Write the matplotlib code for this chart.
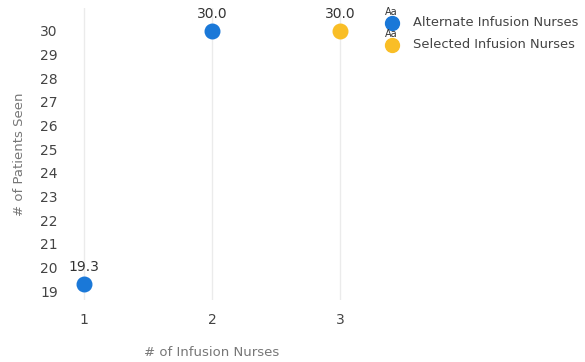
import matplotlib
matplotlib.use("Agg")
import matplotlib.pyplot as plt
from matplotlib.lines import Line2D

# ---------------------------------------------
# DATA
# ---------------------------------------------
alt_nurses = [1, 2]
alt_patients = [19.3, 30.0]
sel_nurses = [3]
sel_patients = [30.0]
x_ticks = [1, 2, 3]
y_ticks = list(range(19, 31))
series_names = ["Alternate Infusion Nurses", "Selected Infusion Nurses"]

BLUE = "#1a78d8"
YELLOW = "#f9be26"

# ---------------------------------------------
# FIGURE
# ---------------------------------------------
fig = plt.figure(figsize=(5.85, 3.62), dpi=100)
ax = fig.add_axes([0.12, 0.171, 0.485, 0.807])

for xv in x_ticks:
    ax.axvline(xv, color="#ebebeb", lw=1, zorder=0)

ax.scatter(alt_nurses, alt_patients, s=110, color=BLUE, zorder=3)
ax.scatter(sel_nurses, sel_patients, s=110, color=YELLOW, zorder=3)

for xs, ys in [(alt_nurses, alt_patients), (sel_nurses, sel_patients)]:
    for xv, yv in zip(xs, ys):
        ax.annotate(f"{yv:.1f}", (xv, yv), xytext=(0, 7), textcoords="offset points",
                    ha="center", va="bottom", fontsize=10, color="#333333")

ax.set_xlim(0.89, 3.11)
ax.set_ylim(18.62, 30.97)
ax.set_xticks(x_ticks)
ax.set_yticks(y_ticks)
ax.tick_params(length=0, labelsize=10, colors="#444444")
ax.tick_params(axis="x", pad=9)
ax.tick_params(axis="y", pad=9)
for s in ax.spines.values():
    s.set_visible(False)

ax.set_xlabel("# of Infusion Nurses", fontsize=9.5, color="#777777", labelpad=14)
ax.set_ylabel("# of Patients Seen", fontsize=9.5, color="#777777", labelpad=10)

# ---------------------------------------------
# LEGEND (placed by hand in figure pixels)
# ---------------------------------------------
W, H = 585, 362
for i, (name, c) in enumerate(zip(series_names, (BLUE, YELLOW))):
    yc = 23 + i * 22
    fig.add_artist(Line2D([392 / W], [1 - yc / H], marker="o", ms=10, ls="",
                          color=c, transform=fig.transFigure))
    fig.text(413 / W, 1 - yc / H, name, fontsize=9.4, color="#444444",
             ha="left", va="center")
    fig.text(391 / W, 1 - (yc - 11) / H, "Aa", fontsize=7, color="#333333",
             ha="center", va="center", zorder=5)

fig.savefig("out.png", dpi=100)
